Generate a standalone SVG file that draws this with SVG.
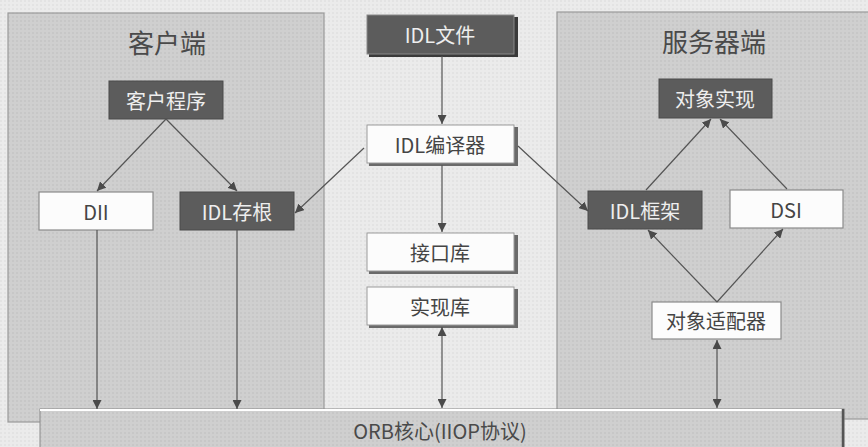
<svg xmlns="http://www.w3.org/2000/svg" width="868" height="447" viewBox="0 0 868 447">
<defs>
<marker id="ah" viewBox="0 0 10 10" refX="10" refY="5" markerWidth="9" markerHeight="9" markerUnits="userSpaceOnUse" orient="auto-start-reverse">
<path d="M0,0 L10,5 L0,10 z" fill="#4a4a4a"/>
</marker>
<pattern id="tex" width="4" height="4" patternUnits="userSpaceOnUse">
<rect width="4" height="4" fill="#cfcfcf"/>
<rect width="2" height="2" fill="#c7c7c7"/>
</pattern>
<pattern id="bgtex" width="4" height="4" patternUnits="userSpaceOnUse">
<rect width="4" height="4" fill="#ebebeb"/>
<rect width="2" height="2" fill="#e3e3e3"/>
</pattern>
</defs>
<style>
text{font-family:"Noto Sans CJK SC","Liberation Sans",sans-serif;text-anchor:middle;dominant-baseline:central}
.title{font-size:26px;fill:#4a4a4a}
.lbl{font-size:20px}
.dark rect{fill:#5c5c5c;stroke:#4a4a4a;stroke-width:1}
.dark text{fill:#eeeeee}
.white rect{fill:#fcfcfc;stroke:#8a8a8a;stroke-width:1.2}
.white text{fill:#454545}
.bev .face{fill:#fcfcfc;stroke:#9a9a9a;stroke-width:1}
.bev .sh{fill:#6a6a6a}
.bev text{fill:#454545}
.bevd .face{fill:#5c5c5c;stroke:#888;stroke-width:1}
.bevd text{fill:#eeeeee}
.panel{fill:url(#tex);stroke:#9a9a9a;stroke-width:1.2}
.conn line{stroke:#555;stroke-width:1.2;fill:none}
</style>
<rect width="868" height="447" fill="url(#bgtex)"/>

<g id="client-panel">
<rect class="panel" x="8" y="13" width="316" height="409"/>
<text class="title" x="167" y="41">客户端</text>
</g>
<g id="server-panel">
<rect class="panel" x="557" y="12" width="318" height="407"/>
<text class="title" x="714" y="40">服务器端</text>
</g>

<g id="client-program" class="dark">
<rect x="109" y="81" width="114" height="38"/>
<text class="lbl" x="166" y="100">客户程序</text>
</g>
<g id="dii" class="white">
<rect x="39" y="192" width="114" height="38"/>
<text class="lbl" x="96" y="211">DII</text>
</g>
<g id="idl-stub" class="dark">
<rect x="180" y="192" width="114" height="38"/>
<text class="lbl" x="237" y="211">IDL存根</text>
</g>

<g id="idl-file" class="bevd">
<rect class="sh" x="369" y="17" width="149" height="40" fill="#3a3a3a"/>
<rect class="face" x="367" y="15" width="147" height="39"/>
<text class="lbl" x="440" y="34">IDL文件</text>
</g>
<g id="idl-compiler" class="bev">
<rect class="sh" x="369" y="127" width="149" height="39"/>
<rect class="face" x="367" y="125" width="147" height="38"/>
<text class="lbl" x="440" y="144">IDL编译器</text>
</g>
<g id="interface-repo" class="bev">
<rect class="sh" x="369" y="235" width="149" height="39"/>
<rect class="face" x="367" y="233" width="147" height="38"/>
<text class="lbl" x="440" y="252">接口库</text>
</g>
<g id="impl-repo" class="bev">
<rect class="sh" x="369" y="289" width="149" height="39"/>
<rect class="face" x="367" y="287" width="147" height="38"/>
<text class="lbl" x="440" y="306">实现库</text>
</g>

<g id="object-impl" class="dark">
<rect x="659" y="79" width="113" height="39"/>
<text class="lbl" x="715" y="98">对象实现</text>
</g>
<g id="idl-skeleton" class="dark">
<rect x="588" y="191" width="114" height="38"/>
<text class="lbl" x="645" y="210">IDL框架</text>
</g>
<g id="dsi" class="white">
<rect x="730" y="190" width="113" height="38"/>
<text class="lbl" x="786" y="209">DSI</text>
</g>
<g id="object-adapter" class="white">
<rect x="652" y="302" width="129" height="37"/>
<text class="lbl" x="716" y="320">对象适配器</text>
</g>

<g id="orb-core">
<rect x="40" y="409" width="804" height="40" fill="url(#tex)" stroke="#8a8a8a" stroke-width="1"/>
<line x1="40" y1="410" x2="843" y2="410" stroke="#ffffff" stroke-width="2"/>
<line x1="843" y1="409" x2="843" y2="447" stroke="#555" stroke-width="2.5"/>
<text class="lbl" x="440" y="430" fill="#4a4a4a">ORB核心(IIOP协议)</text>
</g>

<g id="connectors" class="conn">
<line x1="166" y1="119" x2="97" y2="191" marker-end="url(#ah)"/>
<line x1="166" y1="119" x2="237" y2="191" marker-end="url(#ah)"/>
<line x1="97" y1="230" x2="97" y2="409" marker-end="url(#ah)"/>
<line x1="237" y1="230" x2="237" y2="409" marker-end="url(#ah)"/>
<line x1="442" y1="56" x2="442" y2="124" marker-end="url(#ah)"/>
<line x1="442" y1="165" x2="442" y2="232" marker-end="url(#ah)"/>
<line x1="442" y1="327" x2="442" y2="408" marker-start="url(#ah)" marker-end="url(#ah)"/>
<line x1="364" y1="148" x2="295" y2="213" marker-end="url(#ah)"/>
<line x1="518" y1="146" x2="588" y2="211" marker-end="url(#ah)"/>
<line x1="646" y1="190" x2="711" y2="119" marker-end="url(#ah)"/>
<line x1="787" y1="189" x2="720" y2="119" marker-end="url(#ah)"/>
<line x1="717" y1="302" x2="648" y2="230" marker-end="url(#ah)"/>
<line x1="717" y1="302" x2="783" y2="229" marker-end="url(#ah)"/>
<line x1="717" y1="340" x2="717" y2="408" marker-start="url(#ah)" marker-end="url(#ah)"/>
</g>
</svg>
